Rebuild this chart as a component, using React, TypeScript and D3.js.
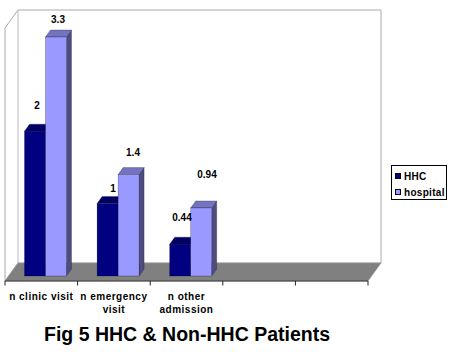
import React from "react";
import * as d3 from "d3";

const categories = [["n clinic visit"], ["n emergency", "visit"], ["n other", "admission"], [""], [""]];
const seriesNames = ["HHC", "hospital"];
const hhc = [2, 1, 0.44];
const hospital = [3.3, 1.4, 0.94];
const hhcLabels = ["2", "1", "0.44"];
const hospitalLabels = ["3.3", "1.4", "0.94"];

const W = 450, H = 354;
const frontL = 5, frontR = 368, floorY = 281, depthX = 13, depthY = 18;
const barBase = 276, barTop = 37;
const bx = 5, by = 7;

const x0 = d3.scaleBand<number>().domain(d3.range(categories.length)).range([frontL, frontR]);
const x1 = d3.scaleBand<string>().domain(seriesNames).range([19.5, 61.5]);
const y = d3.scaleLinear().domain([0, 3.3]).range([barBase, barTop]);

const palette = [
  { front: "#000080", top: "#000066", side: "#000055" },
  { front: "#9999ff", top: "#7373bf", side: "#4d4d80" },
];
const poly = (pts: number[][]) => d3.line()(pts as [number, number][]) + "Z";
const labelFont = { fontFamily: "'Liberation Sans', Arial, sans-serif", fontWeight: 700, fontSize: 10, fill: "#000" } as const;

function Bar({ x, w, v, c }: { x: number; w: number; v: number; c: typeof palette[0] }) {
  const t = y(v);
  return (
    <g stroke="#000" strokeWidth={0.4} strokeOpacity={0.6}>
      <path d={poly([[x + w, t], [x + w + bx, t - by], [x + w + bx, barBase - by], [x + w, barBase]])} fill={c.side} />
      <path d={poly([[x, t], [x + bx, t - by], [x + w + bx, t - by], [x + w, t]])} fill={c.top} />
      <rect x={x} y={t} width={w} height={barBase - t} fill={c.front} />
    </g>
  );
}

export default function App() {
  const backL = frontL + depthX, backR = frontR + depthX, backB = floorY - depthY, backT = 10;
  const hhcOff = [[37, 109], [113, 192], [182, 221]];
  const hosOff = [[58, 23], [133, 156], [207, 178]];
  return (
    <svg width={W} height={H} style={{ position: "absolute", left: 0, top: 0, background: "#fff" }}>
      <path d={poly([[frontL, 28], [backL, backT], [backR, backT], [backR, backB], [backL, backB], [frontL, floorY]])} fill="#fff" stroke="#aaa" strokeWidth={1} />
      <path d={`M${backL},${backT}V${backB}`} stroke="#bbb" fill="none" />
      <path d={poly([[frontL, floorY], [backL, backB], [backR, backB], [frontR, floorY]])} fill="#808080" stroke="#999" strokeWidth={0.6} />
      <path d={`M${frontL},${floorY}H${frontR}`} stroke="#333" />
      {[...x0.domain().map((d) => x0(d)!), frontR].map((t, i) => (
        <line key={i} x1={t} x2={t} y1={floorY} y2={floorY + 4.5} stroke="#222" />
      ))}
      {hhc.map((v, i) => (
        <g key={i}>
          <Bar x={x0(i)! + x1("HHC")!} w={x1.bandwidth()} v={v} c={palette[0]} />
          <Bar x={x0(i)! + x1("hospital")!} w={x1.bandwidth()} v={hospital[i]} c={palette[1]} />
        </g>
      ))}
      {hhcLabels.map((l, i) => (
        <text key={l} x={hhcOff[i][0]} y={hhcOff[i][1]} textAnchor="middle" {...labelFont}>{l}</text>
      ))}
      {hospitalLabels.map((l, i) => (
        <text key={l} x={hosOff[i][0]} y={hosOff[i][1]} textAnchor="middle" {...labelFont}>{l}</text>
      ))}
      {categories.map((lines, i) => (
        <text key={i} textAnchor="middle" {...labelFont} letterSpacing={0.5}>
          {lines.map((s, j) => (
            <tspan key={j} x={x0(i)! + x0.bandwidth() / 2} y={299.5 + j * 13.5}>{s}</tspan>
          ))}
        </text>
      ))}
      <text x={187} y={341} textAnchor="middle" fontFamily="'Liberation Sans', Arial, sans-serif" fontWeight={700} fontSize={19.5} fill="#000">Fig 5 HHC &amp; Non-HHC Patients</text>
      <rect x={391.5} y={165.5} width={55} height={34} fill="#fff" stroke="#000" strokeWidth={1} />
      {seriesNames.map((s, i) => (
        <g key={s}>
          <rect x={395.5} y={173.5 + i * 16} width={5} height={5} fill={palette[i].front} stroke="#000" strokeWidth={1} />
          <text x={404} y={180 + i * 15.5} {...labelFont} letterSpacing={0.3}>{s}</text>
        </g>
      ))}
    </svg>
  );
}
